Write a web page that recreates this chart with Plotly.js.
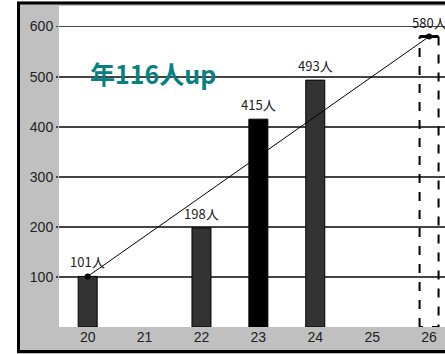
<!DOCTYPE html>
<html>
<head>
<meta charset="utf-8">
<script src="https://cdn.plot.ly/plotly-3.0.1.min.js"></script>
<style>
html,body{margin:0;padding:0;background:#ffffff;}
#chart{width:445px;height:354px;}
</style>
</head>
<body>
<div id="chart"></div>
<script>
// ---- data ----
const categories = [20, 21, 22, 23, 24, 25, 26];
const actualYears = [20, 22, 23, 24];
const actualValues = [101, 198, 415, 493];
const actualColors = ['#333333', '#333333', '#000000', '#333333'];
const forecastYears = [26];
const forecastValues = [580];
const trendX = [20, 26];
const trendY = [101, 580];
const yTickValues = [100, 200, 300, 400, 500, 600];
const labelSuffix = '人';
const calloutText = '年116人up';
const calloutPos = {x: 21.15, y: 507};

// ---- style ----
const BAR_W = 0.334;
const labelFont = {family: '"Noto Sans CJK JP", "Noto Sans", sans-serif', size: 13, color: '#222222'};
const tickFont = {family: '"Liberation Sans", Arial, sans-serif', size: 14, color: '#222222'};

const traces = [
  {
    type: 'bar',
    x: actualYears,
    y: actualValues,
    width: BAR_W,
    marker: {color: actualColors, line: {color: '#000000', width: 1}},
    hoverinfo: 'x+y',
    showlegend: false
  },
  {
    type: 'scatter',
    mode: 'lines+markers',
    x: trendX,
    y: trendY,
    line: {color: '#000000', width: 1},
    marker: {color: '#000000', size: 6},
    showlegend: false
  }
];

const allX = actualYears.concat(forecastYears);
const allY = actualValues.concat(forecastValues);
const annotations = allX.map((x, i) => ({
  x: x, y: allY[i], xref: 'x', yref: 'y',
  text: allY[i] + labelSuffix,
  showarrow: false, yanchor: 'bottom', yshift: 3,
  font: labelFont
}));
annotations.push({
  x: calloutPos.x, y: calloutPos.y, xref: 'x', yref: 'y',
  text: '<b>' + calloutText + '</b>', showarrow: false,
  font: {family: '"Noto Sans CJK JP", "Noto Sans", sans-serif', size: 25, color: '#088080'}
});

const shapes = [];
// forecast bar: dashed outline with solid top
forecastYears.forEach((x, i) => {
  const v = forecastValues[i];
  shapes.push({
    type: 'path', xref: 'x', yref: 'y', layer: 'above',
    path: `M ${x - BAR_W / 2} 0 L ${x - BAR_W / 2} ${v} M ${x + BAR_W / 2} ${v} L ${x + BAR_W / 2} 0 L ${x - BAR_W / 2} 0`,
    line: {color: '#000000', width: 2, dash: 'dash'}
  });
  shapes.push({
    type: 'line', xref: 'x', yref: 'y', layer: 'above',
    x0: x - BAR_W / 2, x1: x + BAR_W / 2, y0: v, y1: v,
    line: {color: '#000000', width: 3}
  });
});
// white surroundings and black frame of the chart box
shapes.push({type: 'rect', xref: 'paper', yref: 'paper', layer: 'above',
  x0: -0.3, x1: -0.1088, y0: -0.3, y1: 1.3, fillcolor: '#ffffff', line: {width: 0}});
shapes.push({type: 'rect', xref: 'paper', yref: 'paper', layer: 'above',
  x0: -0.3, x1: 1.3, y0: 1.0140, y1: 1.3, fillcolor: '#ffffff', line: {width: 0}});
shapes.push({type: 'rect', xref: 'paper', yref: 'paper', layer: 'above',
  x0: -0.1049, x1: 1.05, y0: -0.0763, y1: 1.0093, fillcolor: 'rgba(0,0,0,0)',
  line: {color: '#000000', width: 3}});

const layout = {
  width: 445, height: 354,
  margin: {l: 59, r: 0, t: 6, b: 27, pad: 0},
  paper_bgcolor: '#c0c0c0',
  plot_bgcolor: '#ffffff',
  showlegend: false,
  bargap: 0,
  xaxis: {
    range: [19.496, 26.28],
    tickmode: 'array', tickvals: categories, ticktext: categories.map(String),
    showgrid: false, zeroline: false, showline: false,
    ticks: '', tickfont: tickFont
  },
  yaxis: {
    range: [0, 641],
    tickmode: 'array', tickvals: yTickValues, ticktext: yTickValues.map(String),
    showgrid: true, gridcolor: '#444444', gridwidth: 1.8,
    zeroline: false, showline: false,
    ticks: 'outside', ticklen: 2, tickcolor: '#444444', tickwidth: 1.8,
    tickfont: tickFont
  },
  annotations: annotations,
  shapes: shapes
};

Plotly.newPlot('chart', traces, layout, {staticPlot: true, displayModeBar: false});
</script>
</body>
</html>
